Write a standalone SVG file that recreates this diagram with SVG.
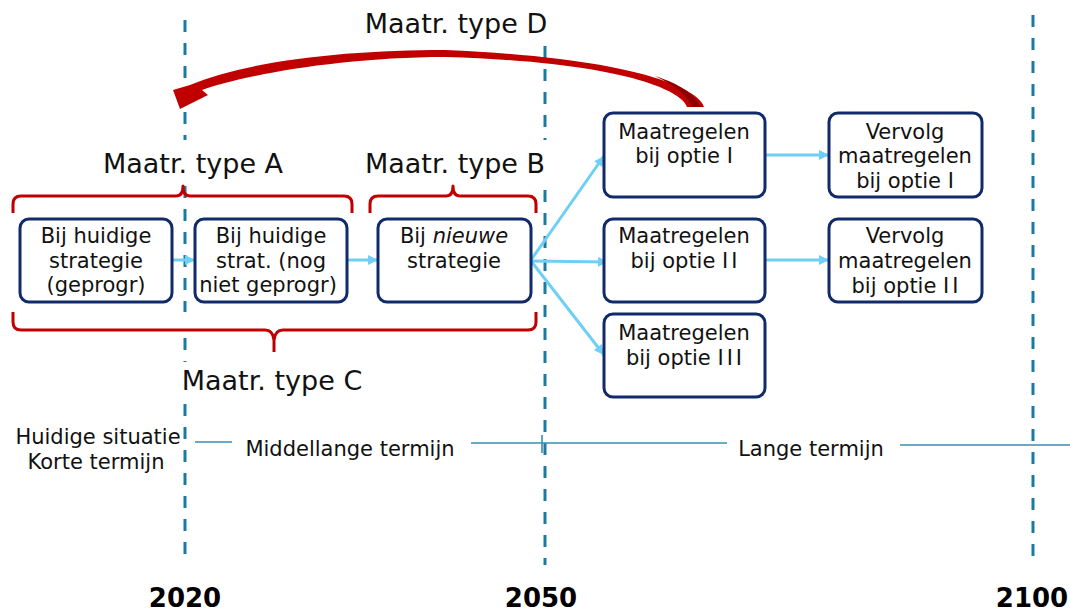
<svg xmlns="http://www.w3.org/2000/svg" width="1070" height="612" viewBox="0 0 1070 612">
  <defs>
    <style>
      .guide { stroke: #1a7a9f; stroke-width: 3; stroke-dasharray: 12 11; fill: none; }
      .axis { stroke: #3a8db0; stroke-width: 1.6; fill: none; }
      .brace { stroke: #c00000; stroke-width: 3; fill: none; stroke-linejoin: round; }
      .box { fill: #ffffff; stroke: #112a6a; stroke-width: 3; }
      .flow { stroke: #6fcff5; stroke-width: 3; fill: none; marker-end: url(#head); }
      .t { font-family: "DejaVu Sans", Verdana, sans-serif; font-size: 21px; fill: #111111; text-anchor: middle; }
      .h { font-family: "DejaVu Sans", Verdana, sans-serif; font-size: 27px; fill: #111111; text-anchor: middle; }
      .yr { font-family: "DejaVu Sans", Verdana, sans-serif; font-size: 26px; font-weight: bold; fill: #000000; text-anchor: middle; }
    </style>
    <marker id="head" viewBox="0 0 10 10" refX="10" refY="5" markerUnits="userSpaceOnUse" markerWidth="11" markerHeight="10" orient="auto">
      <path d="M0,0 L10,5 L0,10 Z" fill="#6fcff5"/>
    </marker>
  </defs>

  <rect width="1070" height="612" fill="#ffffff"/>

  <!-- year guide lines -->
  <g id="guides">
    <line class="guide" x1="185" y1="20" x2="185" y2="140"/>
    <line class="guide" x1="185" y1="186" x2="185" y2="312"/>
    <line class="guide" x1="185" y1="338" x2="185" y2="362"/>
    <line class="guide" x1="185" y1="404" x2="185" y2="565"/>
    <line class="guide" x1="545" y1="46" x2="545" y2="140"/>
    <line class="guide" x1="545" y1="190" x2="545" y2="565"/>
    <line class="guide" x1="1033" y1="15" x2="1033" y2="565"/>
  </g>

  <!-- time axis -->
  <g id="axis">
    <line class="axis" x1="195" y1="442" x2="232" y2="442"/>
    <line class="axis" x1="471" y1="443" x2="727" y2="443"/>
    <line class="axis" x1="900" y1="445" x2="1070" y2="445"/>
    <line class="axis" x1="542" y1="435" x2="542" y2="453"/>
    <text class="t" x="98" y="444">Huidige situatie</text>
    <text class="t" x="96" y="469">Korte termijn</text>
    <text class="t" x="350" y="456">Middellange termijn</text>
    <text class="t" x="811" y="456">Lange termijn</text>
  </g>

  <!-- years -->
  <g id="years">
    <text class="yr" x="185" y="607">2020</text>
    <text class="yr" x="541" y="607">2050</text>
    <text class="yr" x="1032" y="607">2100</text>
  </g>

  <!-- measure type braces and labels -->
  <g id="type-a">
    <path class="brace" d="M13,213 V204 Q13,196 21,196 H176 Q183,196 183,186 Q183,196 190,196 H344 Q352,196 352,204 V213"/>
    <text class="h" x="193" y="173">Maatr. type A</text>
  </g>
  <g id="type-b">
    <path class="brace" d="M370,213 V204 Q370,196 378,196 H446 Q453,196 453,186 Q453,196 460,196 H528 Q536,196 536,204 V213"/>
    <text class="h" x="455" y="173">Maatr. type B</text>
  </g>
  <g id="type-c">
    <path class="brace" d="M13,312 V322 Q13,330 21,330 H265 Q273,330 274,340 V352 M274,340 Q275,330 283,330 H528 Q536,330 536,322 V312"/>
    <text class="h" x="272" y="390">Maatr. type C</text>
  </g>
  <g id="type-d">
    <text class="h" x="456" y="33">Maatr. type D</text>
    <!-- curved ribbon arrow back to 2020, head included in the outline -->
    <path d="M704,107 C700,90 640,58 445,50 C350,50 250,60 190,85 L173,90 L180,109 L208,95 L202,90 C240,76 340,57 445,57 C620,62 682,90 687,107 Z" fill="#c00000"/>
    <path d="M700,107 C696,95 680,84 655,76 C676,86 688,96 692,107 Z" fill="#8e0000"/>
  </g>

  <!-- connectors -->
  <g id="connectors">
    <line class="flow" x1="172" y1="260" x2="195" y2="260"/>
    <line class="flow" x1="347" y1="260" x2="378" y2="260"/>
    <line class="flow" x1="531" y1="260" x2="604" y2="156"/>
    <line class="flow" x1="531" y1="261" x2="608" y2="262"/>
    <line class="flow" x1="531" y1="261" x2="604" y2="355"/>
    <line class="flow" x1="765" y1="155" x2="829" y2="155"/>
    <line class="flow" x1="765" y1="260" x2="829" y2="260"/>
  </g>

  <!-- nodes -->
  <g id="node-huidig">
    <rect class="box" x="20" y="219" width="152" height="83" rx="9"/>
    <text class="t" x="96" y="243">Bij huidige</text>
    <text class="t" x="96" y="268">strategie</text>
    <text class="t" x="96" y="292">(geprogr)</text>
  </g>
  <g id="node-huidig-niet">
    <rect class="box" x="195" y="219" width="152" height="83" rx="9"/>
    <text class="t" x="271" y="243">Bij huidige</text>
    <text class="t" x="271" y="268">strat. (nog</text>
    <text class="t" x="268" y="292">niet geprogr)</text>
  </g>
  <g id="node-nieuw">
    <rect class="box" x="378" y="219" width="153" height="83" rx="9"/>
    <text class="t" x="454" y="243">Bij <tspan font-style="italic">nieuwe</tspan></text>
    <text class="t" x="454" y="268">strategie</text>
  </g>
  <g id="node-optie-1">
    <rect class="box" x="604" y="113" width="161" height="84" rx="9"/>
    <text class="t" x="684" y="139">Maatregelen</text>
    <text class="t" x="684" y="163">bij optie I</text>
  </g>
  <g id="node-vervolg-1">
    <rect class="box" x="829" y="113" width="153" height="84" rx="9"/>
    <text class="t" x="905" y="139">Vervolg</text>
    <text class="t" x="905" y="163">maatregelen</text>
    <text class="t" x="905" y="188">bij optie I</text>
  </g>
  <g id="node-optie-2">
    <rect class="box" x="604" y="219" width="161" height="83" rx="9"/>
    <text class="t" x="684" y="243">Maatregelen</text>
    <text class="t" x="684" y="268">bij optie I<tspan dx="3">I</tspan></text>
  </g>
  <g id="node-vervolg-2">
    <rect class="box" x="829" y="219" width="153" height="83" rx="9"/>
    <text class="t" x="905" y="243">Vervolg</text>
    <text class="t" x="905" y="268">maatregelen</text>
    <text class="t" x="905" y="293">bij optie I<tspan dx="3">I</tspan></text>
  </g>
  <g id="node-optie-3">
    <rect class="box" x="604" y="314" width="161" height="83" rx="9"/>
    <text class="t" x="684" y="340">Maatregelen</text>
    <text class="t" x="684" y="365">bij optie I<tspan dx="3">I</tspan><tspan dx="3">I</tspan></text>
  </g>
</svg>
